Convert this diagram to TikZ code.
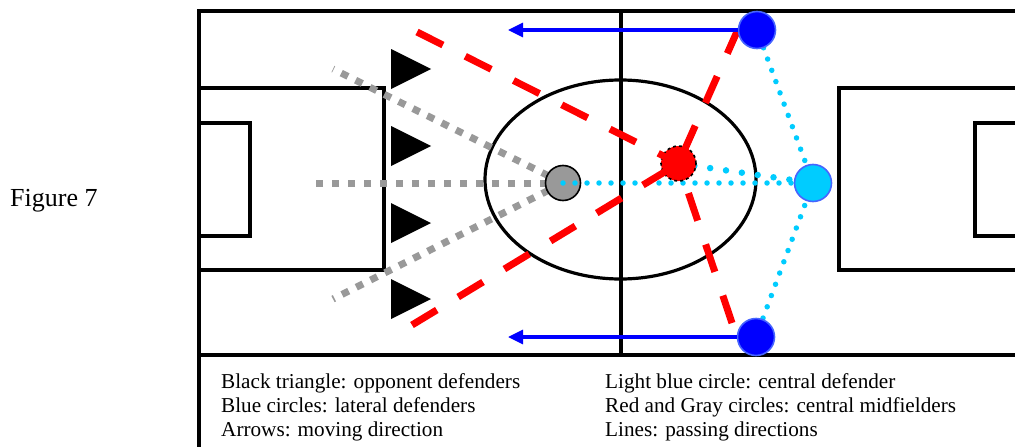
\documentclass[tikz,border=0pt]{standalone}
\usepackage{fontspec}
\setmainfont{Liberation Serif}
\usetikzlibrary{arrows.meta}
\definecolor{lblue}{RGB}{0,204,255}
\definecolor{pblue}{RGB}{0,0,255}
\definecolor{pblueedge}{RGB}{70,100,255}
\definecolor{pgray}{RGB}{153,153,153}
\definecolor{pred}{RGB}{255,0,0}
\pgfdeclarelayer{lA}
\pgfdeclarelayer{lB}
\pgfdeclarelayer{lC}
\pgfdeclarelayer{lD}
\pgfdeclarelayer{lE}
\pgfsetlayers{lA,lB,lC,lD,lE,main}
\begin{document}
\begin{tikzpicture}[x=1pt,y=-1pt,
  fieldline/.style={line width=3.2pt,black},
  player/.style={circle,minimum size=35pt,inner sep=0pt,line width=1.6pt},
  grayline/.style={line width=7pt,pgray,dash pattern=on 7.5pt off 8.5pt},
  bluedots/.style={line width=5.5pt,lblue,line cap=round,dash pattern=on 0pt off 12pt},
  bluedotsbig/.style={line width=6.5pt,lblue,line cap=round,dash pattern=on 0pt off 16pt},
  redline/.style={line width=7pt,pred,dash pattern=on 29pt off 25pt},
  movearrow/.style={line width=3.2pt,pblue,-{Triangle[length=15pt,width=14pt]}},
  lbl/.style={font=\fontsize{21.2}{24}\selectfont,anchor=base west,inner sep=0pt},
  opp/.style={fill=black}]
\useasboundingbox (0,0) rectangle (1015,447);

% players
\begin{pgfonlayer}{lB}
\node[player,fill=pgray,draw=black,minimum size=35pt] (g) at (563,183) {};
\end{pgfonlayer}
\begin{pgfonlayer}{lD}
\node[player,fill=pred,draw=black,dash pattern=on 3pt off 3pt,minimum size=35pt] (r) at (678.5,163.5) {};
\end{pgfonlayer}
\node[player,fill=lblue,draw=pblueedge,minimum size=37pt] (lb) at (813,183) {};
\node[player,fill=pblue,draw=pblueedge,minimum size=37pt] (bt) at (757,30) {};
\node[player,fill=pblue,draw=pblueedge,minimum size=37pt] (bb) at (756,337) {};

% free ends
\coordinate (gt) at (333,69);
\coordinate (gm) at (316,183);
\coordinate (gb) at (333,299);
\coordinate (ra) at (417,32);
\coordinate (rc) at (412,325);
\coordinate (at) at (508,30);
\coordinate (ab) at (508,337);

\begin{pgfonlayer}{lA}
\begin{scope}
\clip (0,0) rectangle (1015,447);
\draw[fieldline] (1030,11) -- (199,11) -- (199,447);
\draw[fieldline] (199,355) -- (1030,355);
\draw[fieldline] (621,11) -- (621,355);
\draw[fieldline] (199,88) -- (384,88) -- (384,270) -- (199,270);
\draw[fieldline] (199,123) -- (250,123) -- (250,236) -- (199,236);
\draw[fieldline] (1030,88) -- (839,88) -- (839,270) -- (1030,270);
\draw[fieldline] (1030,123) -- (975,123) -- (975,236) -- (1030,236);
\draw[fieldline] (620.5,179.5) ellipse [x radius=135.5, y radius=99.5];
\end{scope}
\draw[grayline] (g.center) -- (gt);
\draw[grayline] (g.center) -- (gm);
\draw[grayline] (g.center) -- (gb);
\end{pgfonlayer}

\begin{pgfonlayer}{lC}
\draw[bluedots] (g.center) -- (lb.center);
\draw[bluedotsbig] (r.center) -- (lb.center);
\draw[bluedots] (lb.center) -- (bt.center);
\draw[bluedots] (lb.center) -- (bb.center);
\end{pgfonlayer}

\begin{pgfonlayer}{lE}
\draw[redline] (ra) -- (r.center) -- (bb.west);
\draw[redline] (rc) -- (r.center) -- (bt.west);
\end{pgfonlayer}

% opponents
\fill[opp] (391,49) -- (431,69) -- (391,89) -- cycle;
\fill[opp] (391,126) -- (431,146) -- (391,166) -- cycle;
\fill[opp] (391,203) -- (431,223) -- (391,243) -- cycle;
\fill[opp] (391,279) -- (431,299) -- (391,319) -- cycle;

% arrows
\draw[movearrow] (bt.west) -- (at);
\draw[movearrow] (bb.west) -- (ab);

% texts
\node[anchor=base west,inner sep=0pt,font=\fontsize{26}{30}\selectfont] (fig) at (10,206) {Figure 7};
\node[lbl] (t1) at (221,388) {Black triangle: opponent defenders};
\node[lbl] (t2) at (221,412) {Blue circles: lateral defenders};
\node[lbl] (t3) at (221,436) {Arrows: moving direction};
\node[lbl] (t4) at (605,388) {Light blue circle: central defender};
\node[lbl] (t5) at (605,412) {Red and Gray circles: central midfielders};
\node[lbl] (t6) at (605,436) {Lines: passing directions};
\end{tikzpicture}
\end{document}
